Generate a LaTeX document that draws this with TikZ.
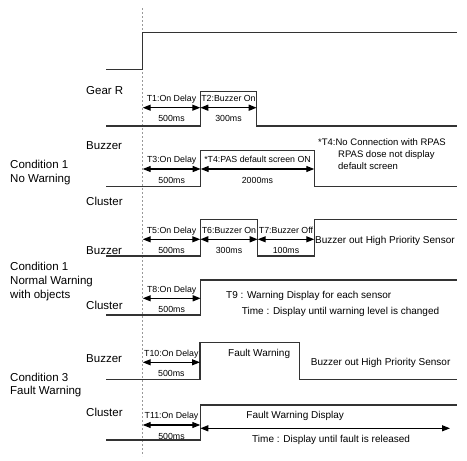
\documentclass[tikz,border=0pt]{standalone}
\usepackage{fontspec}
\setmainfont{Liberation Sans}
\usetikzlibrary{arrows.meta}

\begin{document}
\begin{tikzpicture}[x=1pt, y=-1pt,
            wave/.style = {draw=black!80, line width=1.1pt},
            dim/.style = {line width=1.2pt, {Triangle[length=8pt,width=6pt]}-{Triangle[length=8pt,width=6pt]}},
            sig/.style = {anchor=base west, inner sep=0pt, font=\fontsize{11.5}{14}\selectfont},
            tlabel/.style = {inner sep=0pt, text height=6.5pt, text depth=2pt, font=\fontsize{8.8}{10}\selectfont},
            note/.style = {inner sep=0pt, font=\fontsize{10}{12}\selectfont}]

           \useasboundingbox (0,0) rectangle (467,461);

           % start line
           \draw[black!40, line width=0.6pt, dash pattern=on 2pt off 2pt] (142.7,8) -- (142.7,456);

           % signal names (multi-line ones sit on their last line)
           \node[sig] (gear) at (86,94) {Gear R};
           \node[sig] (buz1) at (86,149.7) {Buzzer};
           \node[sig] (clu1) at (86,205) {Cluster};
           \node[sig, align=left] (cond1) at (10,182.3) {Condition 1\\No Warning};
           \node[sig] (buz2) at (86,254.3) {Buzzer};
           \node[sig, align=left] (cond2) at (10,298.3) {Condition 1\\Normal Warning\\with objects};
           \node[sig] (clu2) at (86,309.7) {Cluster};
           \node[sig] (buz3) at (86,362) {Buzzer};
           \node[sig, align=left, font=\fontsize{11.5}{13.4}\selectfont] (cond3) at (10,394.7) {Condition 3\\Fault Warning};
           \node[sig] (clu3) at (86,416.7) {Cluster};

           % waveforms
           \draw[wave] (106,69.3) -- (142.7,69.3) -- (142.7,32.3) -- (457,32.3);
           \draw[wave] (106,126) -- (200.3,126) -- (200.3,91.3) -- (256.7,91.3) -- (256.7,126) -- (457,126);
           \draw[wave] (106,186.7) -- (200.7,186.7) -- (200.7,150.5) -- (314.3,150.5) -- (314.3,186.7) -- (457,186.7);
           \draw[wave] (106,256) -- (200.3,256) -- (200.3,219.3) -- (257.7,219.3) -- (257.7,256) -- (314.3,256) -- (314.3,219.3) -- (457,219.3);
           \draw[wave] (106,315) -- (200.7,315) -- (200.7,280) -- (457,280);
           \draw[wave] (106,379.3) -- (200,379.3) -- (200,342.7) -- (299.3,342.7) -- (299.3,379.3) -- (457,379.3);
           \draw[wave] (106,440) -- (200.3,440) -- (200.3,405) -- (457,405);

           % arrow ends
           \coordinate (a1) at (142.7,107.7);
           \coordinate (a2) at (200.3,107.7);
           \coordinate (a3) at (256.7,107.7);
           \coordinate (b1) at (142.7,169);
           \coordinate (b2) at (200.7,169);
           \coordinate (b3) at (314.3,169);
           \coordinate (c1) at (142.7,239.3);
           \coordinate (c2) at (200.3,239.3);
           \coordinate (c3) at (257.7,239.3);
           \coordinate (c4) at (314.3,239.3);
           \coordinate (e1) at (142.7,298.3);
           \coordinate (e2) at (200.7,298.3);
           \coordinate (f1) at (142.7,362.3);
           \coordinate (f2) at (200,362.3);
           \coordinate (g1) at (142.7,425);
           \coordinate (g2) at (200.3,425);
           \coordinate (h1) at (200.3,428.3);
           \coordinate (h2) at (450,428.3);

           % delays with labels
           \draw[dim] (a1) -- (a2) node[tlabel, midway, above=3.5pt] (t1) {T1:On Delay} node[tlabel, midway, below=7pt] (d1) {500ms};
           \draw[dim] (a2) -- (a3) node[tlabel, midway, above=3.5pt] (t2) {T2:Buzzer On} node[tlabel, midway, below=7pt] (d2) {300ms};
           \draw[dim] (b1) -- (b2) node[tlabel, midway, above=3.5pt] (t3) {T3:On Delay} node[tlabel, midway, below=7pt] (d3) {500ms};
           \draw[dim] (b2) -- (b3) node[tlabel, midway, above=3.5pt] (t4) {*T4:PAS default screen ON} node[tlabel, midway, below=7pt] (d4) {2000ms};
           \draw[dim] (c1) -- (c2) node[tlabel, midway, above=3.5pt] (t5) {T5:On Delay} node[tlabel, midway, below=7pt] (d5) {500ms};
           \draw[dim] (c2) -- (c3) node[tlabel, midway, above=3.5pt] (t6) {T6:Buzzer On} node[tlabel, midway, below=7pt] (d6) {300ms};
           \draw[dim] (c3) -- (c4) node[tlabel, midway, above=3.5pt] (t7) {T7:Buzzer Off} node[tlabel, midway, below=7pt] (d7) {100ms};
           \draw[dim] (e1) -- (e2) node[tlabel, midway, above=3.5pt] (t8) {T8:On Delay} node[tlabel, midway, below=7pt] (d8) {500ms};
           \draw[dim] (f1) -- (f2) node[tlabel, midway, above=3.5pt] (t10) {T10:On Delay} node[tlabel, midway, below=7pt] (d10) {500ms};
           \draw[dim] (g1) -- (g2) node[tlabel, midway, above=3.5pt] (t11) {T11:On Delay} node[tlabel, midway, below=7pt] (d11) {500ms};
           \draw[dim] (h1) -- (h2) node[note, pos=0.38, above=7.2pt, text height=7.2pt, text depth=2.1pt] (fd) {Fault Warning Display}
                                    node[note, pos=0.524, below=6.2pt, text height=7.2pt, text depth=2.1pt] (fr) {Time : Display until fault is released};

           % notes
           \node[note, anchor=base west, font=\fontsize{9.5}{11.4}\selectfont] (n1) at (318,145.2) {*T4:No Connection with RPAS};
           \node[note, anchor=base west, align=left, font=\fontsize{9.5}{11.4}\selectfont] (n2) at (338,169.2) {RPAS dose not display\\default screen};
           \node[note, anchor=base west] (hp1) at (315,243) {Buzzer out High Priority Sensor};
           \node[note, anchor=base west] (t9) at (226,298) {T9 : Warning Display for each sensor};
           \node[note, anchor=base west] (t9b) at (241.7,314.7) {Time : Display until warning level is changed};
           \node[note, anchor=base west] (fw) at (228,356.3) {Fault Warning};
           \node[note, anchor=base west] (hp2) at (310.7,365.4) {Buzzer out High Priority Sensor};
        \end{tikzpicture}
\end{document}
